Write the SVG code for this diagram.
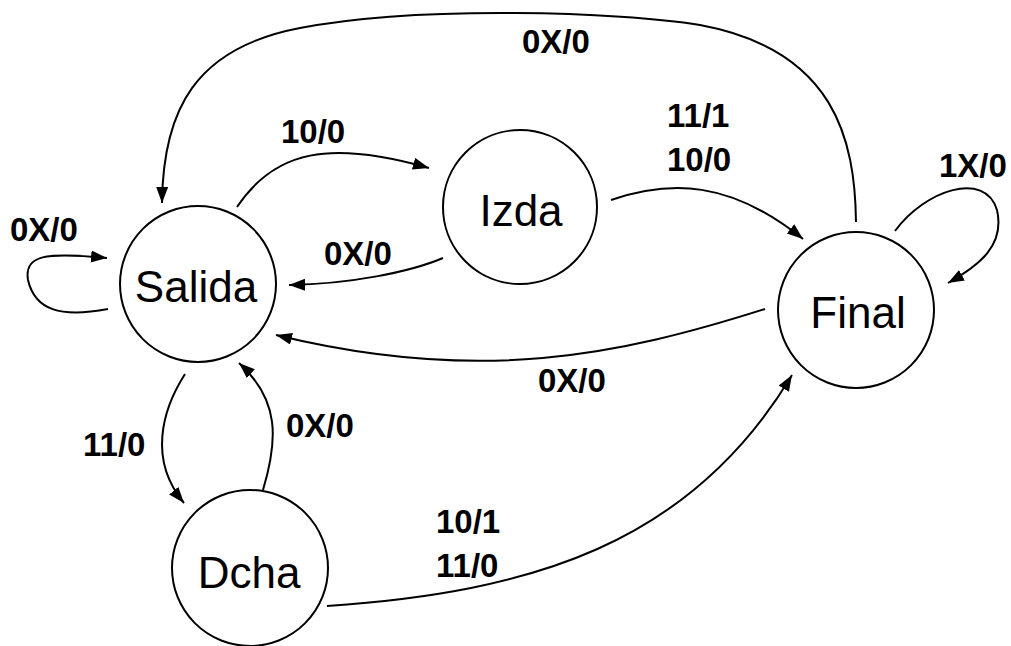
<svg xmlns="http://www.w3.org/2000/svg" width="1011" height="646" viewBox="0 0 1011 646">
<style>
.node circle{fill:#fff;stroke:#000;stroke-width:2}
.node text{font-family:"Liberation Sans",Arial,sans-serif;font-size:44px;text-anchor:middle;fill:#000}
.edge path{fill:none;stroke:#000;stroke-width:2;marker-end:url(#arr)}
.lbl{font-family:"Liberation Sans",Arial,sans-serif;font-size:33px;font-weight:bold;fill:#000}
</style>
<defs>
<marker id="arr" markerUnits="userSpaceOnUse" markerWidth="18" markerHeight="14" refX="16" refY="6" orient="auto">
<path d="M0,0 L16,6 L0,12 z" fill="#000"/>
</marker>
</defs>
<rect width="1011" height="646" fill="#fff"/>
<g id="connectors" class="edge">
<path d="M108,309 C60,318 35,310 28,280 C24,255 45,252 107,258"/>
<path d="M237,207 C275,150 330,140 429,168"/>
<path d="M443,258 C410,272 350,284 289,285"/>
<path d="M611,200 C670,180 730,180 803,239"/>
<path d="M895,231 C925,190 985,170 997,210 C1005,245 980,265 948,283"/>
<path d="M856,222 C855,140 835,50 700,25 C620,12 420,5 300,28 C195,48 163,110 162,203"/>
<path d="M765,309 C620,355 480,385 276,335"/>
<path d="M185,374 C162,410 148,460 184,503"/>
<path d="M263,490 C278,440 280,400 239,363"/>
<path d="M327,606 C530,592 690,545 792,375"/>
</g>
<g id="labels">
<text class="lbl" x="10" y="241">0X/0</text>
<text class="lbl" x="281" y="143">10/0</text>
<text class="lbl" x="324" y="265">0X/0</text>
<text class="lbl" x="522" y="53">0X/0</text>
<text class="lbl" x="667" y="127">11/1</text>
<text class="lbl" x="667" y="171">10/0</text>
<text class="lbl" x="939" y="177">1X/0</text>
<text class="lbl" x="538" y="392">0X/0</text>
<text class="lbl" x="83" y="456">11/0</text>
<text class="lbl" x="286" y="437">0X/0</text>
<text class="lbl" x="436" y="533">10/1</text>
<text class="lbl" x="436" y="577">11/0</text>
</g>
<g id="node-salida" class="node"><circle cx="198" cy="284" r="78"/><text x="196" y="302">Salida</text></g>
<g id="node-izda" class="node"><circle cx="520" cy="207" r="77"/><text x="521" y="226">Izda</text></g>
<g id="node-final" class="node"><circle cx="856" cy="310" r="78"/><text x="858" y="328">Final</text></g>
<g id="node-dcha" class="node"><circle cx="250" cy="568" r="78"/><text x="249" y="588">Dcha</text></g>
</svg>
